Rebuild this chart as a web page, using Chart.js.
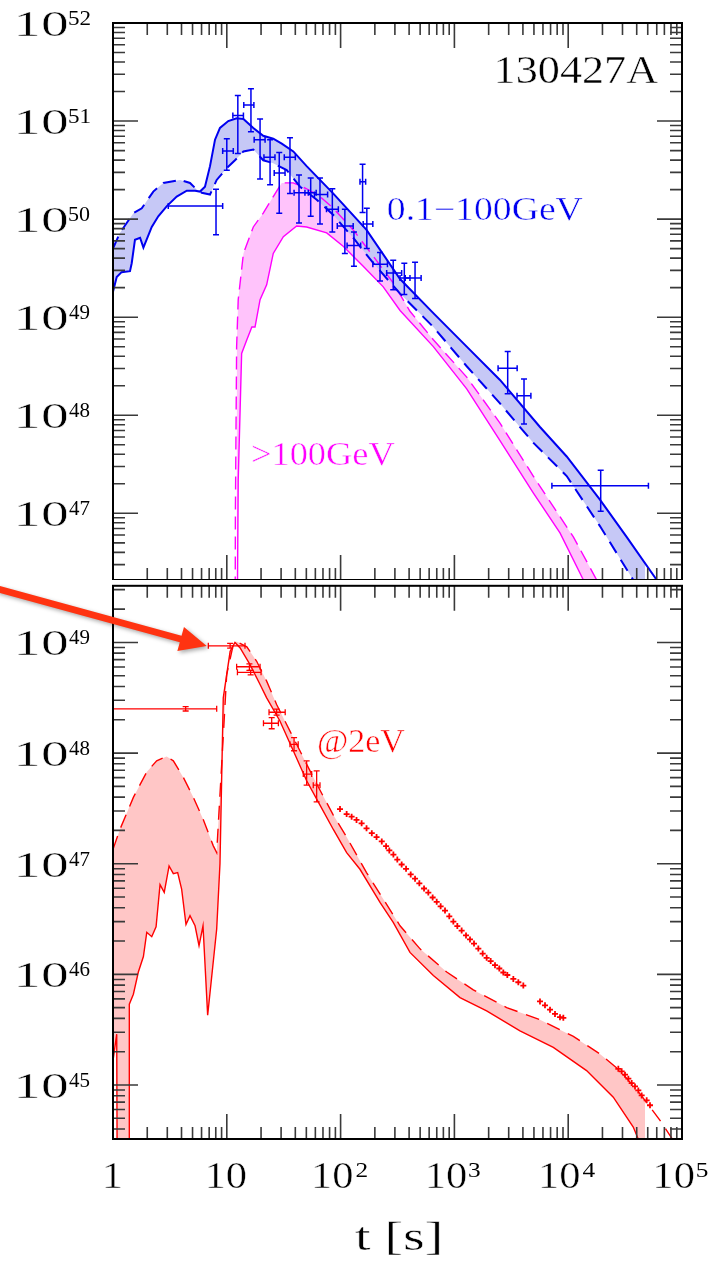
<!DOCTYPE html>
<html>
<head>
<meta charset="utf-8">
<title>130427A</title>
<script src="https://cdn.jsdelivr.net/npm/chart.js@4.4.1/dist/chart.umd.min.js"></script>
<style>
html, body { margin:0; padding:0; background:#ffffff; }
#wrap { position:relative; width:717px; height:1262px; overflow:hidden; background:#ffffff; }
#wrap canvas { position:absolute; left:0; }
#cTop { top:0; }
#cBot { top:580px; }
</style>
</head>
<body>
<div id="wrap">
<canvas id="cTop" width="717" height="580"></canvas>
<canvas id="cBot" width="717" height="682"></canvas>
</div>
<script>
// ================= DATA =================
// x axis (time, s) decades and tick labels
const xDecades = [1, 10, 100, 1000, 10000, 100000];
const xTickLabels = [["1",""],["10",""],["10","2"],["10","3"],["10","4"],["10","5"]];
// y tick label exponents
const yTopExps = [47, 48, 49, 50, 51, 52];
const yBotExps = [45, 46, 47, 48, 49];

// ---- top panel: 0.1-100 GeV model band (solid / dashed) ----
const gevSolidT = [1.0,1.078,1.19,1.41,1.46,1.56,1.73,1.85,2.19,2.50,2.96,3.63,4.45,5.26,5.81,6.43,7.12,7.88,8.71,10.3,12.2,14.0,17.1,20.9,25.6,30.4,38.4,50.3,86.3,169,333,653,1283,2515,5650,9700,19000,32600,60000,78500];
const gevSolidL = [1.82e49,2.57e49,2.88e49,2.95e49,3.55e49,6.17e49,6.46e49,5.13e49,8.32e49,1.07e50,1.35e50,1.70e50,1.95e50,1.95e50,1.91e50,2.14e50,3.47e50,6.46e50,8.51e50,1.0e51,1.07e51,1.05e51,8.51e50,7.08e50,6.61e50,5.89e50,4.90e50,3.47e50,1.82e50,7.76e49,2.45e49,1.10e49,5.01e48,2.29e48,7.59e47,3.80e47,1.38e47,5.75e46,2.09e46,1.26e46];
const gevDashT = [1.0,1.15,1.51,1.79,2.26,2.77,3.88,4.75,5.44,6.02,7.12,8.15,9.98,11.8,14.0,17.1,20.9,25.6,33.6,44.0,61.7,86.3,129,194,333,653,1283,2515,4930,9700,19000,37300,47300];
const gevDashL = [5.01e49,7.24e49,1.15e50,1.29e50,1.91e50,2.34e50,2.51e50,2.34e50,2.0e50,1.86e50,1.78e50,2.51e50,3.31e50,3.98e50,4.90e50,5.13e50,3.98e50,3.72e50,3.16e50,2.14e50,1.58e50,1.10e50,6.46e49,3.55e49,1.74e49,7.94e48,3.16e48,1.32e48,5.25e47,2.40e47,7.41e46,2.09e46,1.26e46];

// ---- top panel: >100 GeV model band (dashed / solid) ----
const tevDashT = [11.8,11.9,12.2,12.6,14.0,17.1,20.9,25.6,30.4,38.4,50.3,65.9,86.3,129,194,290,407,653,1283,2515,4930,7400,11100,17800,23300];
const tevDashL = [1e45,1e47,5.01e48,1.51e49,4.47e49,8.32e49,1.15e50,1.70e50,2.34e50,2.34e50,2.04e50,1.70e50,1.29e50,7.76e49,4.17e49,2.24e49,1.15e49,5.89e48,2.45e48,8.32e47,2.40e47,1.17e47,5.75e46,2.09e46,1.26e46];
const tevSolidT = [12.2,12.6,13.5,15.0,16.6,17.7,19.6,22.4,25.6,31.4,41.1,50.3,75.5,106,158,237,333,653,1283,2515,4930,8470,13600,17200];
const tevSolidL = [1e45,2.19e47,4.27e48,5.89e48,7.94e48,7.94e48,1.51e49,2.14e49,4.47e49,6.61e49,8.51e49,8.32e49,7.24e49,5.25e49,3.31e49,2.04e49,1.17e49,5.01e48,1.86e48,5.50e47,1.62e47,6.31e46,2.09e46,1.26e46];

// ---- top panel: LAT data with error bars ----
const latT   = [8.04,10.0,12.5,16.3,19.6,24.0,28.9,35.9,43.1,54.6,65.9,84.6,109,131,156,170,222,290,363,451,2940,4090,19300];
const latTLo = [3.06,9.2,11.3,14.1,17.4,21.2,26.1,32.0,39.0,48.6,58.9,75.2,93.5,114,148,158,192,254,333,370,2420,3550,7190];
const latTHi = [9.2,11.4,14.0,17.3,21.7,26.5,32.5,40.0,52.0,61.0,76.9,95.5,129,150,166,192,258,344,407,510,3560,4700,50700];
const latL   = [1.36e50,4.95e50,1.14e51,1.46e51,6.46e50,4.27e50,2.95e50,4.27e50,1.86e50,1.86e50,1.78e50,1.26e50,8.51e49,5.37e49,2.40e50,8.91e49,3.47e49,2.82e49,2.51e49,2.51e49,3.02e48,1.58e48,1.91e47];
const latLLo = [6.92e49,3.16e50,4.68e50,7.76e50,2.57e50,2.24e50,1.15e50,1.82e50,9.12e49,1.07e50,8.91e49,7.41e49,4.47e49,3.31e49,1.17e50,5.01e49,2.34e49,1.91e49,1.70e49,1.55e49,1.66e48,8.13e47,1.05e47];
const latLHi = [2.02e50,6.61e50,1.82e51,2.14e51,1.05e51,6.46e50,4.79e50,6.76e50,2.82e50,2.63e50,2.63e50,2.04e50,1.26e50,7.41e49,3.63e50,1.29e50,4.57e49,3.80e49,3.55e49,3.63e49,4.47e48,2.34e48,2.75e47];

// ---- bottom panel: optical (2 eV) model band (dashed / solid) ----
const optDashT = [1.0,1.15,1.51,1.98,2.42,2.96,3.39,4.15,5.08,6.21,7.61,8.15,9.02,9.98,11.4,12.2,15.0,18.3,22.4,27.4,35.9,47.0,61.7,86.3,113,169,237,333,499,856,1466,2880,5650,11100,19000,28500,42800,64100,81200,96000];
const optDashL = [1.35e47,2.04e47,3.98e47,6.76e47,8.51e47,9.33e47,8.51e47,6.03e47,3.98e47,2.51e47,1.45e47,1.26e47,7.94e47,5.13e48,9.55e48,1.02e49,9.12e48,6.76e48,4.47e48,2.75e48,1.58e48,9.12e47,5.25e47,2.75e47,1.74e47,8.32e46,4.79e46,2.75e46,1.70e46,1.05e46,7.24e45,5.01e45,3.89e45,2.75e45,1.91e45,1.35e45,8.32e44,4.79e44,3.31e44,2.5e44];
const optSolidT = [1.0,1.078,1.09,1.39,1.391,1.51,1.67,1.85,1.98,2.19,2.39,2.59,2.82,3.11,3.39,3.70,4.01,4.38,4.75,5.26,5.70,6.18,6.79,8.15,8.71,9.31,10.7,11.8,13.1,16.0,19.6,22.4,29.3,38.4,50.3,65.9,86.3,113,148,222,290,407,653,1120,1920,3770,7400,14500,24900,37300,41300,47300];
const optSolidL = [1.66e45,2.88e45,1e44,1e44,5.37e45,6.61e45,1.05e46,1.45e46,2.40e46,2.19e46,2.69e46,6.46e46,5.50e46,9.55e46,8.13e46,8.32e46,5.89e46,2.82e46,3.39e46,2.75e46,1.82e46,2.75e46,4.27e45,2.57e46,1.0e47,3.16e48,8.32e48,1.0e49,8.91e48,6.31e48,4.17e48,3.16e48,1.95e48,1.05e48,5.62e47,3.39e47,2.04e47,1.26e47,8.91e46,4.47e46,2.95e46,1.58e46,9.77e45,6.17e45,4.68e45,3.09e45,2.19e45,1.35e45,7.76e44,4.17e44,3.24e44,2.0e44];

// ---- bottom panel: early optical points with error bars ----
const optPtT   = [4.35,10.7,15.8,16.2,27.4,24.8,39.0,50.3,61.6];
const optPtTLo = [0.9,6.88,12.2,12.4,23.5,21.0,35.9,47.0,57.5];
const optPtTHi = [8.15,14.45,19.6,20.0,32.6,28.4,42.4,55.7,65.9];
const optPtL   = [2.51e48,9.33e48,6.03e48,5.37e48,2.34e48,1.86e48,1.20e48,6.46e47,5.13e47];
const optPtLLo = [2.40e48,8.9e48,5.6e48,5.1e48,2.2e48,1.66e48,1.05e48,5.13e47,3.63e47];
const optPtLHi = [2.63e48,9.8e48,6.4e48,5.6e48,2.5e48,2.09e48,1.38e48,8.51e47,6.92e47];

// ---- bottom panel: dense optical light curve ----
const denseT = [98.8,113,125,138,153,169,188,207,230,251,268,291,315,344,376,413,451,492,541,590,644,699,757,827,902,979,1061,1158,1265,1371,1487,1623,1772,1920,2083,2274,2481,2691,2917,3295,3646,4033,
  5652,6254,6921,7656,8472,9063,
  27570,29500,31560,33770,36120,38640,41330,44220,48930,52340];
const denseL = [3.12e47,2.81e47,2.66e47,2.49e47,2.32e47,2.09e47,1.89e47,1.74e47,1.59e47,1.44e47,1.32e47,1.21e47,1.09e47,9.84e46,9.0e46,8.01e46,7.33e46,6.65e46,5.97e46,5.49e46,4.95e46,4.53e46,4.12e46,3.77e46,3.35e46,3.0e46,2.73e46,2.49e46,2.25e46,2.07e46,1.90e46,1.71e46,1.54e46,1.41e46,1.32e46,1.21e46,1.13e46,1.04e46,9.87e45,9.09e45,8.49e45,7.92e45,
  5.70e45,5.25e45,4.80e45,4.39e45,4.10e45,4.05e45,
  1.40e45,1.33e45,1.24e45,1.14e45,1.04e45,9.70e44,8.93e44,8.05e44,7.27e44,6.56e44];

// ================= STYLE / LAYOUT =================
const SERIF = '"Liberation Serif", "DejaVu Serif", serif';
const BLUE = '#0000f0', BLUE_FILL = '#c6c8f6';
const MAG = '#ff00ff', MAG_FILL = '#ffc3fb';
const RED = '#ff0000', RED_FILL = '#ffc6c6';

const annotTop = [
  {text:'130427A', t:6.15e4, L:2.44e51, color:'#000000', size:39, w:161, align:'right'},
  {text:'0.1\u2212100GeV', t:261, L:9.8e49, color:BLUE, size:33, w:195, align:'left'},
  {text:'>100GeV', t:16.65, L:3.12e47, color:MAG, size:33, w:143, align:'left'}
];
const annotBot = [
  {text:'@2eV', t:63.3, L:1.02e48, color:RED, size:33, w:87, align:'left'}
];
const arrowTip = {t:6.66, L:9.27e48};
const arrowTail = {dx:-210, dy:-57.5};

function pts(xs, ys) { return xs.map((v, i) => ({x: v, y: ys[i]})); }

// draws text (optionally stretched horizontally); 'thin' lightly trims glyph strokes
function drawStretched(ctx, txt, font, inkLeftX, baseline, targetW, scaleX, thin) {
  ctx.font = font;
  const m = ctx.measureText(txt);
  const inkL = -m.actualBoundingBoxLeft, inkR = m.actualBoundingBoxRight;
  const sx = targetW ? targetW / (inkR - inkL) : (scaleX || 1);
  ctx.save();
  ctx.translate(inkLeftX - inkL * sx, baseline);
  ctx.scale(sx, 1);
  ctx.textAlign = 'left';
  ctx.textBaseline = 'alphabetic';
  ctx.fillText(txt, 0, 0);
  if (thin) {
    ctx.strokeStyle = '#ffffff';
    ctx.lineWidth = thin / sx;
    ctx.lineJoin = 'round';
    ctx.strokeText(txt, 0, 0);
  }
  ctx.restore();
  return (inkR - inkL) * sx;
}

function drawYLabel(ctx, e, py) {
  ctx.fillStyle = '#000';
  drawStretched(ctx, '10', '35px ' + SERIF, 18, py + 13, 50, 0, 0.7);
  drawStretched(ctx, String(e), '22px ' + SERIF, 69, py + 2, 21, 0, 0);
}

function inkWidth(ctx, txt, font) {
  ctx.font = font;
  const m = ctx.measureText(txt);
  return m.actualBoundingBoxRight + m.actualBoundingBoxLeft;
}

function makeAxisPlugin(cfg) {
  return {
    id: 'axisFrame',
    afterDraw(chart) {
      const ctx = chart.ctx, a = chart.chartArea, xs = chart.scales.x, ys = chart.scales.y;
      ctx.save();
      ctx.setLineDash([]);
      ctx.strokeStyle = '#3a3a3a';
      ctx.lineWidth = 1.6;
      ctx.beginPath();
      xDecades.forEach(d => {
        for (let m = 1; m <= 9; m++) {
          const v = d * m;
          if (v < xs.min * 0.999 || v > xs.max * 1.001) continue;
          const p = xs.getPixelForValue(v);
          const len = m === 1 ? 25 : 12;
          ctx.moveTo(p, a.top); ctx.lineTo(p, a.top + len);
          ctx.moveTo(p, a.bottom); ctx.lineTo(p, a.bottom - len);
        }
      });
      const e0 = Math.floor(Math.log10(ys.min)), e1 = Math.ceil(Math.log10(ys.max));
      for (let e = e0; e <= e1; e++) {
        for (let m = 1; m <= 9; m++) {
          const v = m * Math.pow(10, e);
          if (v < ys.min || v > ys.max * 1.001) continue;
          const p = ys.getPixelForValue(v);
          const len = m === 1 ? 25 : 12;
          ctx.moveTo(a.left, p); ctx.lineTo(a.left + len, p);
          ctx.moveTo(a.right, p); ctx.lineTo(a.right - len, p);
        }
      }
      ctx.stroke();
      ctx.strokeStyle = '#000';
      ctx.lineWidth = 2;
      ctx.strokeRect(a.left, a.top, a.right - a.left, a.bottom - a.top);

      cfg.yExps.forEach(e => drawYLabel(ctx, e, ys.getPixelForValue(Math.pow(10, e))));

      if (cfg.xLabels) {
        ctx.fillStyle = '#000';
        const mainFont = '38px ' + SERIF, supFont = '22px ' + SERIF;
        const kx = 1.12, ks = 1.15;
        xDecades.forEach((d, i) => {
          const [main, sup] = xTickLabels[i];
          const px = xs.getPixelForValue(d);
          const wMain = inkWidth(ctx, main, mainFont) * kx;
          const wSup = sup ? inkWidth(ctx, sup, supFont) * ks : 0;
          const gap = sup ? 3 : 0;
          const start = px - (wMain + gap + wSup) / 2;
          drawStretched(ctx, main, mainFont, start, a.bottom + 49, 0, kx, 0.5);
          if (sup) drawStretched(ctx, sup, supFont, start + wMain + gap, a.bottom + 38, 0, ks, 0);
        });
        const titleW = 85;
        drawStretched(ctx, 't [s]', '40px ' + SERIF, (a.left + a.right) / 2 - titleW / 2, a.bottom + 111, titleW, 0, 0.6);
      }

      (cfg.annots || []).forEach(n => {
        ctx.fillStyle = n.color;
        const px = xs.getPixelForValue(n.t), py = ys.getPixelForValue(n.L);
        const left = n.align === 'right' ? px - n.w : px;
        drawStretched(ctx, n.text, n.size + 'px ' + SERIF, left, py, n.w, 0, 0.5);
      });
      ctx.restore();
    }
  };
}

const errorBarPlugin = {
  id: 'errBars',
  afterDatasetsDraw(chart) {
    const ctx = chart.ctx, a = chart.chartArea, xs = chart.scales.x, ys = chart.scales.y;
    ctx.save();
    ctx.beginPath();
    ctx.rect(a.left, a.top, a.right - a.left, a.bottom - a.top);
    ctx.clip();
    ctx.setLineDash([]);
    chart.data.datasets.forEach(ds => {
      const e = ds.errorBars;
      if (!e) return;
      ctx.strokeStyle = e.color;
      ctx.lineWidth = e.width;
      ds.data.forEach((p, i) => {
        const px = xs.getPixelForValue(p.x), py = ys.getPixelForValue(p.y);
        const x0 = xs.getPixelForValue(e.xLo[i]), x1 = xs.getPixelForValue(e.xHi[i]);
        const y0 = ys.getPixelForValue(e.yLo[i]), y1 = ys.getPixelForValue(e.yHi[i]);
        const c = e.cap;
        ctx.beginPath();
        ctx.moveTo(x0, py); ctx.lineTo(x1, py);
        ctx.moveTo(px, y0); ctx.lineTo(px, y1);
        ctx.moveTo(x0, py - c); ctx.lineTo(x0, py + c);
        ctx.moveTo(x1, py - c); ctx.lineTo(x1, py + c);
        ctx.moveTo(px - c, y0); ctx.lineTo(px + c, y0);
        ctx.moveTo(px - c, y1); ctx.lineTo(px + c, y1);
        ctx.stroke();
      });
    });
    ctx.restore();
  }
};

const arrowPlugin = {
  id: 'arrow',
  afterDraw(chart) {
    const ctx = chart.ctx, xs = chart.scales.x, ys = chart.scales.y;
    const tx = xs.getPixelForValue(arrowTip.t), ty = ys.getPixelForValue(arrowTip.L);
    const sx = tx + arrowTail.dx, sy = ty + arrowTail.dy;
    const ang = Math.atan2(ty - sy, tx - sx);
    const headLen = 27, headHalf = 12.5, shaftHalf = 3.3;
    const c = Math.cos(ang), s = Math.sin(ang);
    const bx = tx - headLen * c, by = ty - headLen * s;
    ctx.save();
    ctx.shadowColor = 'rgba(0,0,0,0.35)';
    ctx.shadowBlur = 4;
    ctx.shadowOffsetX = 2;
    ctx.shadowOffsetY = 2;
    ctx.fillStyle = '#ff3311';
    ctx.beginPath();
    ctx.moveTo(sx + shaftHalf * s, sy - shaftHalf * c);
    ctx.lineTo(bx + shaftHalf * s, by - shaftHalf * c);
    ctx.lineTo(bx + headHalf * s, by - headHalf * c);
    ctx.lineTo(tx, ty);
    ctx.lineTo(bx - headHalf * s, by + headHalf * c);
    ctx.lineTo(bx - shaftHalf * s, by + shaftHalf * c);
    ctx.lineTo(sx - shaftHalf * s, sy + shaftHalf * c);
    ctx.closePath();
    ctx.fill();
    ctx.restore();
  }
};

function baseOptions(pad, yMin, yMax) {
  return {
    responsive: false,
    animation: false,
    devicePixelRatio: 1,
    events: [],
    layout: { padding: pad },
    elements: { point: { radius: 0 }, line: { tension: 0 } },
    plugins: {
      legend: { display: false },
      tooltip: { enabled: false },
      title: { display: false },
      filler: { drawTime: 'beforeDatasetsDraw' }
    },
    scales: {
      x: { type: 'logarithmic', min: 1, max: 1e5, bounds: 'data', display: false },
      y: { type: 'logarithmic', min: yMin, max: yMax, bounds: 'data', display: false }
    }
  };
}

// ================= TOP CHART =================
new Chart(document.getElementById('cTop'), {
  type: 'line',
  data: {
    datasets: [
      { data: pts(gevSolidT, gevSolidL), borderColor: BLUE, borderWidth: 2, backgroundColor: BLUE_FILL, fill: '+1', pointRadius: 0 },
      { data: pts(gevDashT, gevDashL), borderColor: BLUE, borderWidth: 2, borderDash: [13, 8], fill: false, pointRadius: 0 },
      { data: pts(tevDashT, tevDashL), borderColor: MAG, borderWidth: 1.4, borderDash: [13, 7], backgroundColor: MAG_FILL, fill: '+1', pointRadius: 0 },
      { data: pts(tevSolidT, tevSolidL), borderColor: MAG, borderWidth: 1.4, fill: false, pointRadius: 0 },
      { data: pts(latT, latL), showLine: false, pointRadius: 0, borderColor: BLUE,
        errorBars: { xLo: latTLo, xHi: latTHi, yLo: latLLo, yHi: latLHi, color: BLUE, width: 1.5, cap: 3 } }
    ]
  },
  options: baseOptions({ left: 113, right: 35, top: 23, bottom: 0 }, Math.pow(10, 46.32), 1e52),
  plugins: [errorBarPlugin, makeAxisPlugin({ yExps: yTopExps, xLabels: false, annots: annotTop })]
});

// ================= BOTTOM CHART =================
new Chart(document.getElementById('cBot'), {
  type: 'line',
  data: {
    datasets: [
      { data: pts(optDashT, optDashL), borderColor: RED, borderWidth: 1.4, borderDash: [14, 9], backgroundColor: RED_FILL, fill: '+1', pointRadius: 0 },
      { data: pts(optSolidT, optSolidL), borderColor: RED, borderWidth: 1.4, fill: false, pointRadius: 0 },
      { data: pts(optPtT, optPtL), showLine: false, pointRadius: 0, borderColor: RED,
        errorBars: { xLo: optPtTLo, xHi: optPtTHi, yLo: optPtLLo, yHi: optPtLHi, color: RED, width: 1.3, cap: 3 } },
      { data: pts(denseT, denseL), showLine: false, pointStyle: 'cross', pointRadius: 3, borderColor: RED, backgroundColor: RED, pointBorderWidth: 1.8 }
    ]
  },
  options: baseOptions({ left: 113, right: 35, top: 0, bottom: 123 }, Math.pow(10, 44.512), Math.pow(10, 49.512)),
  plugins: [errorBarPlugin, makeAxisPlugin({ yExps: yBotExps, xLabels: true, annots: annotBot }), arrowPlugin]
});
</script>
</body>
</html>
